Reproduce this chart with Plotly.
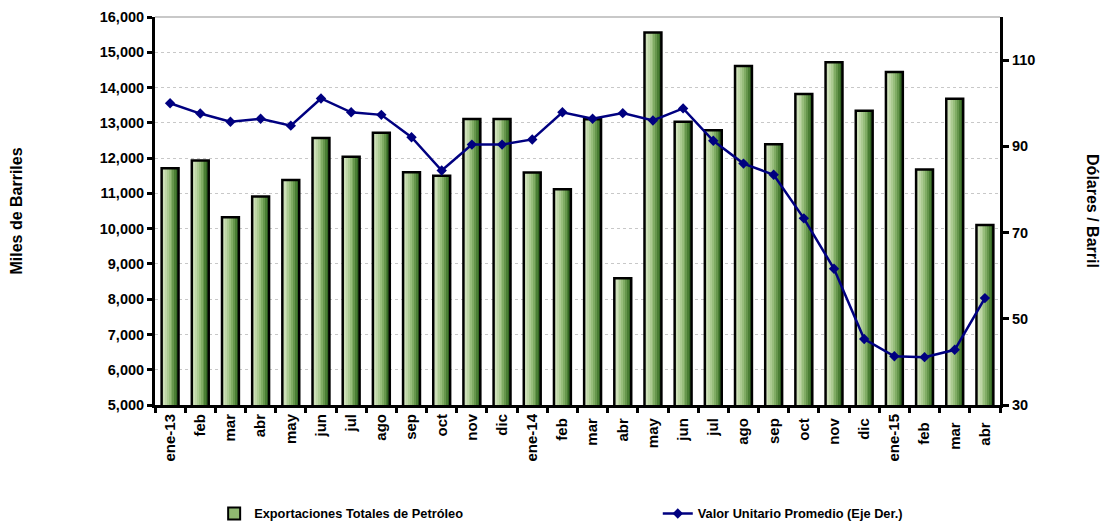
import plotly.graph_objects as go

# Datos
meses = ["ene-13", "feb", "mar", "abr", "may", "jun", "jul", "ago", "sep", "oct", "nov", "dic",
         "ene-14", "feb ", "mar ", "abr ", "may ", "jun ", "jul ", "ago ", "sep ", "oct ", "nov ", "dic ",
         "ene-15", "feb  ", "mar  ", "abr  "]
exportaciones = [11710, 11930, 10320, 10910, 11380, 12570, 12040, 12720, 11600, 11500, 13110, 13110,
                 11590, 11120, 13100, 8590, 15560, 13030, 12790, 14610, 12390, 13820, 14720, 13340,
                 14440, 11680, 13680, 10100]
valor_unitario = [100.0, 97.6, 95.7, 96.4, 94.8, 101.1, 97.9, 97.3, 92.1, 84.4, 90.4, 90.4,
                  91.6, 97.9, 96.4, 97.7, 96.0, 98.8, 91.3, 86.0, 83.4, 73.3, 61.6, 45.3,
                  41.3, 41.1, 42.8, 54.8]

FONT = "Arial, Liberation Sans, sans-serif"
BAR_W = 0.56

# degradado horizontal claro -> oscuro
grad = [(218, 232, 200), (205, 224, 184), (190, 214, 166), (172, 203, 146), (152, 190, 124),
        (128, 172, 100), (102, 150, 76), (74, 126, 52), (52, 104, 36)]

fig = go.Figure()

n = len(grad)
for k, (r, g, b) in enumerate(grad):
    fig.add_trace(go.Bar(
        x=meses, y=exportaciones,
        width=BAR_W / n + 0.002, offset=-BAR_W / 2 + k * BAR_W / n,
        marker=dict(color=f"rgb({r},{g},{b})", line=dict(width=0)),
        showlegend=False, hoverinfo="skip",
    ))

# contorno
fig.add_trace(go.Bar(
    x=meses, y=exportaciones, width=BAR_W, offset=-BAR_W / 2,
    marker=dict(color="rgba(0,0,0,0)", line=dict(color="black", width=2.5)),
    showlegend=False,
))

# entrada de leyenda
fig.add_trace(go.Bar(
    x=[meses[0]], y=[None], name="Exportaciones Totales de Petróleo",
    marker=dict(color="#8fb870", line=dict(color="black", width=2)),
    legend="legend",
))

fig.add_trace(go.Scatter(
    x=meses, y=valor_unitario, yaxis="y2", mode="lines+markers",
    name="Valor Unitario Promedio (Eje Der.)",
    line=dict(color="#000080", width=2.5),
    marker=dict(symbol="diamond", size=8, color="#000080"),
    legend="legend2",
))

leg_font = dict(family=FONT, size=12.8, weight="bold")
tick_font = dict(family=FONT, size=14.5, weight="bold")

fig.update_layout(
    barmode="overlay",
    width=1108, height=524,
    margin=dict(l=155, r=108, t=17, b=119, autoexpand=False),
    plot_bgcolor="white", paper_bgcolor="white",
    font=dict(family=FONT, size=12, color="black"),
    xaxis=dict(
        type="category", tickson="boundaries", ticks="outside", ticklen=5, tickwidth=3,
        tickcolor="black", showline=True, linewidth=3, linecolor="black", showgrid=False,
        tickangle=-90, tickfont=dict(family=FONT, size=15, weight="bold"),
        range=[-0.5, len(meses) - 0.5],
    ),
    yaxis=dict(
        range=[5000, 16000], dtick=1000, tickformat=",", ticks="outside", ticklen=5,
        tickwidth=3, tickcolor="black", showline=True, linewidth=3, linecolor="black",
        showgrid=True, gridcolor="#c8c8c8", griddash="dot", gridwidth=1, zeroline=False,
        tickfont=tick_font,
    ),
    yaxis2=dict(
        overlaying="y", side="right", range=[30, 120], tickvals=[30, 50, 70, 90, 110],
        ticks="outside", ticklen=6, tickwidth=3, tickcolor="black", showline=True,
        linewidth=3, linecolor="black", showgrid=False, zeroline=False,
        tickfont=tick_font,
    ),
    legend=dict(x=0.07, xanchor="left", y=-0.28, yanchor="middle", font=leg_font),
    legend2=dict(x=0.595, xanchor="left", y=-0.28, yanchor="middle", font=leg_font),
    showlegend=True,
)

fig.add_shape(type="line", xref="paper", yref="paper", x0=0, x1=1, y0=1, y1=1,
              line=dict(color="#c8c8c8", width=2))

fig.add_annotation(text="Miles de Barriles", xref="paper", yref="paper",
                   x=-0.165, y=0.5, xanchor="center", textangle=-90, showarrow=False,
                   font=dict(family=FONT, size=16, weight="bold"))
fig.add_annotation(text="Dólares / Barril", xref="paper", yref="paper",
                   x=1.11, y=0.5, xanchor="center", textangle=90, showarrow=False,
                   font=dict(family=FONT, size=16, weight="bold"))

# sin margen del body para que la figura ocupe la ventana
fig.write_html("out.html", config={"displayModeBar": False},
               post_script="document.body.style.margin='0';")
